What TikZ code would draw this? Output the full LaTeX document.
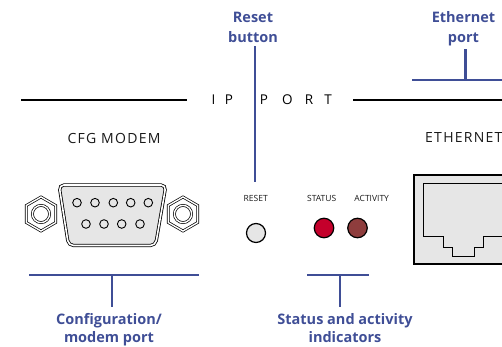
\documentclass[tikz,border=0pt]{standalone}
\usepackage{fontspec}
\setsansfont{Open Sans}
\newfontfamily\panelfont{Open Sans}
\newfontfamily\widepanelfont[LetterSpace=9]{Open Sans}
\usetikzlibrary{positioning}
\definecolor{callblue}{HTML}{3F4E96}
\definecolor{panelgray}{HTML}{E6E6E6}
\definecolor{ledred}{HTML}{C4002B}
\definecolor{ledbrown}{HTML}{8E3D3D}

\begin{document}
\begin{tikzpicture}[
  x=1pt, y=-1pt,
  callout/.style={draw=callblue, line width=2.3pt},
  calltext/.style={text=callblue, font=\sffamily\bfseries\fontsize{14.5}{20}\selectfont,
    align=center, inner sep=0pt},
  rule/.style={draw=black, line width=2pt},
  paneltext/.style={font=\widepanelfont\fontsize{14}{16}\selectfont, inner sep=0pt, text=black!90},
  portletter/.style={font=\panelfont\fontsize{13.5}{16}\selectfont, inner sep=0pt, text=black, anchor=base},
  ledtext/.style={font=\panelfont\fontsize{8.5}{11}\selectfont, inner sep=0pt, text=black!90},
  part/.style={draw=black, fill=panelgray, line width=1.2pt},
  pin/.style={draw=black, fill=panelgray, line width=0.9pt},
  nut/.style={draw=black, double=white, double distance=1.4pt, line width=0.7pt}
]
\useasboundingbox (0,0) rectangle (502,347);
\clip (0,0) rectangle (502,347);

% panel heading with the IP PORT rule
\coordinate (ruleL) at (21,100);
\coordinate (ruleR) at (510,100);
\node[portletter] (ipI) at (213.5,105) {I};
\node[portletter] (ipP) at (229,105) {P};
\foreach \ch/\x [count=\i] in {P/264,O/287.5,R/309,T/328}
  \node[portletter] (port\i) at (\x,105) {\ch};
\draw[rule] (ruleL) -- (187,100);
\draw[rule] (353,100) -- (ruleR);

% connector captions
\node[paneltext, anchor=base] (cfgtxt) at (114,144) {CFG MODEM};
\node[paneltext, anchor=base west] (ethtxt) at (425,143) {ETHERNET};
\node[ledtext, anchor=base] (resettxt) at (255.7,201.5) {RESET};
\node[ledtext, anchor=base] (statustxt) at (321.7,201.5) {STATUS};
\node[ledtext, anchor=base] (acttxt) at (371.7,201.5) {ACTIVITY};

% hex nuts either side of the D-sub
\foreach \cx in {41,183} {
  \draw[nut, fill=white] (\cx,214) +(90:17) -- +(150:17) -- +(210:17)
    -- +(270:17) -- +(330:17) -- +(30:17) -- cycle;
  \draw[nut] (\cx,214) circle (8.6);
}

% D-sub shell and pins
\draw[nut, fill=panelgray, rounded corners=5pt, line width=0.8pt, double distance=1.6pt]
  (59,185) -- (166,185) -- (155.5,245.5) -- (68.5,245.5) -- cycle;
\foreach \x in {77,95,113.3,130.7,148.3}
  \draw[pin] (\x,202.7) circle (4.3);
\foreach \x in {86,104,121.7,140}
  \draw[pin] (\x,224) circle (4.3);

% reset button and LEDs
\node[part, circle, minimum size=19pt, inner sep=0pt] (resetbtn) at (256,233) {};
\node[part, circle, minimum size=19.5pt, inner sep=0pt, fill=ledred] (statusled) at (324,228) {};
\node[part, circle, minimum size=19.5pt, inner sep=0pt, fill=ledbrown] (actled) at (357.5,228) {};

% RJ45 socket
\draw[part, line width=1.3pt] (414,175) rectangle (512,264);
\draw[line width=0.9pt] (423,236) -- (423,183) -- (503,183) -- (503,236) -- (483,236)
  -- (483,247) -- (474,247) -- (474,256) -- (452,256) -- (452,247) -- (443,247)
  -- (443,236) -- cycle;

% callouts above
\node[calltext, anchor=base] (resetlbl) at (253,42.7) {Reset\\button};
\node[calltext, anchor=base] (ethlbl) at (463.5,42.7) {Ethernet\\port};
\coordinate (resettip) at (255,182);
\coordinate (ethjoin) at (465.5,80);
\draw[callout, line width=2pt] (resetlbl.south -| resettip) ++(0,3) -- (resettip);
\draw[callout] (ethlbl.south -| ethjoin) ++(0,3) -- (ethjoin);
\draw[callout] (412,80) -- (510,80);

% callouts below
\coordinate (cfgjoin) at (111.7,275);
\coordinate (ledjoin) at (340,275);
\node[calltext, anchor=base, font=\sffamily\bfseries\fontsize{14.5}{18}\selectfont] (cfglbl) at (109,342.5) {Configuration/\\modem port};
\node[calltext, anchor=base, font=\sffamily\bfseries\fontsize{14.5}{18}\selectfont] (ledlbl) at (345,342.5) {Status and activity\\indicators};
\draw[callout] (29,275) -- (199,275);
\draw[callout] (307,275) -- (369,275);
\draw[callout] (cfgjoin) -- (cfgjoin |- 0,307);
\draw[callout] (ledjoin) -- (ledjoin |- 0,307);
\end{tikzpicture}
\end{document}
